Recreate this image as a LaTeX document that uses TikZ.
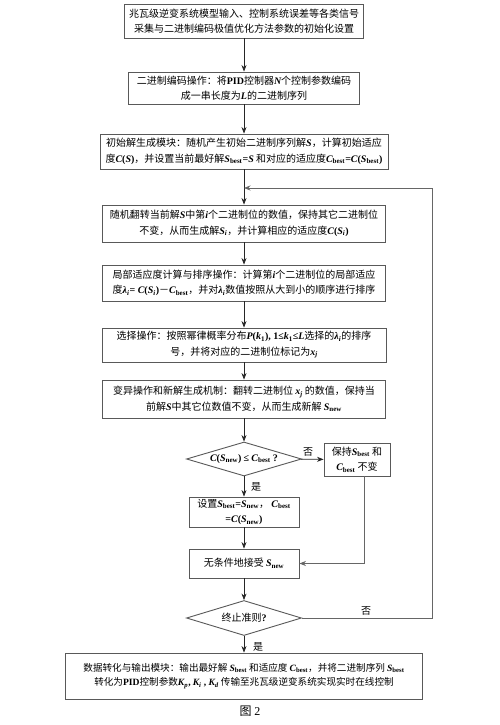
\documentclass[tikz,border=0pt]{standalone}
\usepackage{fontspec}
\setmainfont{Noto Sans CJK SC}
\newfontfamily\tms{Liberation Serif}
\usetikzlibrary{shapes.geometric,arrows.meta}
\newcommand\mv[1]{{\tms\bfseries\itshape #1}}
\newcommand\mb[1]{{\tms\bfseries #1}}
\newcommand\sbs[1]{\textsubscript{\tms\bfseries #1}}
\newcommand\sbi[1]{\textsubscript{\tms\bfseries\itshape #1}}
\newcommand\Sbest{\mv{S}\sbs{best}}
\newcommand\Cbest{\mv{C}\sbs{best}}
\newcommand\Snew{\mv{S}\sbs{new}}
\begin{document}
\begin{tikzpicture}[x=1pt,y=-1pt,
  box/.style={draw=gray!70!black, line width=0.9pt, align=center, inner sep=1pt,
    font=\fontsize{10}{15.5}\selectfont},
  dia/.style={diamond, draw=gray!70!black, line width=0.9pt, inner sep=0pt},
  arr/.style={-{Stealth[length=6.5pt,width=5pt]}, line width=0.7pt, black!85},
  lab/.style={font=\fontsize{10}{12}\selectfont, inner sep=0pt}]
\useasboundingbox (0,0) rectangle (500,725);
\fill[white] (0,0) rectangle (500,725);

\node[box, minimum width=239pt, minimum height=34pt] (b1) at (244,21)
  {兆瓦级逆变系统模型输入、控制系统误差等各类信号\\采集与二进制编码极值优化方法参数的初始化设置};
\node[box, minimum width=231pt, minimum height=32pt] (b2) at (244,88)
  {二进制编码操作：将\mb{PID}控制器\mv{N}个控制参数编码\\成一串长度为\mv{L}的二进制序列};
\node[box, minimum width=288pt, minimum height=35pt] (b3) at (244,151.5)
  {初始解生成模块：随机产生初始二进制序列解\mv{S}，计算初始适应\\度\mv{C}\mb{(}\mv{S}\mb{)}，并设置当前最好解\Sbest\mb{=}\mv{S} 和对应的适应度\Cbest\mb{=}\mv{C}\mb{(}\Sbest\mb{)}};
\node[box, minimum width=283pt, minimum height=37pt] (b4) at (244,223.5)
  {随机翻转当前解\mv{S}中第\mv{i}个二进制位的数值，保持其它二进制位\\不变，从而生成解\mv{S}\sbi{i}，并计算相应的适应度\mv{C}\mb{(}\mv{S}\sbi{i}\mb{)}};
\node[box, minimum width=283pt, minimum height=36pt] (b5) at (244,283)
  {局部适应度计算与排序操作：计算第\mv{i}个二进制位的局部适应\\度\mv{λ}\sbi{i}\mb{= }\mv{C}\mb{(}\mv{S}\sbi{i}\mb{)}－\Cbest，并对\mv{λ}\sbi{i}数值按照从大到小的顺序进行排序};
\node[box, minimum width=284pt, minimum height=34pt] (b6) at (244,345)
  {选择操作：按照幂律概率分布\mv{P}\mb{(}\mv{k}\sbs{1}\mb{)}\mb{, 1≤}\mv{k}\sbs{1}\mb{≤}\mv{L}选择的\mv{λ}\sbi{i}的排序\\号，并将对应的二进制位标记为\mv{x}\sbi{j}};
\node[box, minimum width=283pt, minimum height=38pt] (b7) at (244,399)
  {变异操作和新解生成机制：翻转二进制位 \mv{x}\sbi{j} 的数值，保持当\\前解\mv{S}中其它位数值不变，从而生成新解 \Snew};

\node[dia, minimum width=115pt, minimum height=34pt, aspect=3.4] (d1) at (244,459) {};
\node[lab] (d1t) at (d1.center) {\mv{C}\mb{(}\Snew\mb{)} \mb{≤} \Cbest\ \mb{?}};
\node[box, minimum width=66pt, minimum height=33pt] (keep) at (357,459.5)
  {保持\Sbest\ 和\\\Cbest\ 不变};
\node[box, minimum width=110pt, minimum height=30pt] (b8) at (244,512)
  {设置\Sbest\mb{=}\Snew，\ \Cbest\\\mb{=}\mv{C}\mb{(}\Snew\mb{)}};
\node[box, minimum width=110pt, minimum height=29pt] (b9) at (244,563.5)
  {无条件地接受 \Snew};
\node[dia, minimum width=115pt, minimum height=35pt, aspect=3.3] (d2) at (244,618) {};
\node[lab] (d2t) at (d2.center) {终止准则\mb{?}};
\node[box, minimum width=357pt, minimum height=46pt, font=\fontsize{9.6}{14.5}\selectfont] (b10) at (244,676)
  {数据转化与输出模块：输出最好解 \Sbest\ 和适应度 \Cbest，并将二进制序列 \Sbest\\转化为\mb{PID}控制参数\mv{K}\sbi{p}\mb{,} \mv{K}\sbi{i}\mb{ ,} \mv{K}\sbi{d} 传输至兆瓦级逆变系统实现实时在线控制};
\node[inner sep=0pt, font=\fontsize{12}{14}\selectfont] (cap) at (250,711) {图 {\tms 2}};

\coordinate (join) at (244,188);
\coordinate (loopc) at (432,188);

\draw[arr] (b1) -- (b2);
\draw[arr] (b2) -- (b3);
\draw[arr] (b3) -- (b4);
\draw[arr] (b4) -- (b5);
\draw[arr] (b5) -- (b6);
\draw[arr] (b6) -- (b7);
\draw[arr] (b7) -- (d1);
\draw[arr] (d1) -- (keep);
\draw[arr] (d1) -- (b8);
\draw[arr] (b8) -- (b9);
\draw[arr] (b9) -- (d2);
\draw[arr] (d2) -- (b10);
\draw[arr, black!60] ([xshift=7pt]keep.south) |- (b9.east);
\draw[arr, black!60] (d2.east) -| (loopc) -- (join);

\node[lab] (no1) at (308,452) {否};
\node[lab] (yes1) at (256,487) {是};
\node[lab] (no2) at (366,611) {否};
\node[lab] (yes2) at (258,647) {是};
\end{tikzpicture}
\end{document}
